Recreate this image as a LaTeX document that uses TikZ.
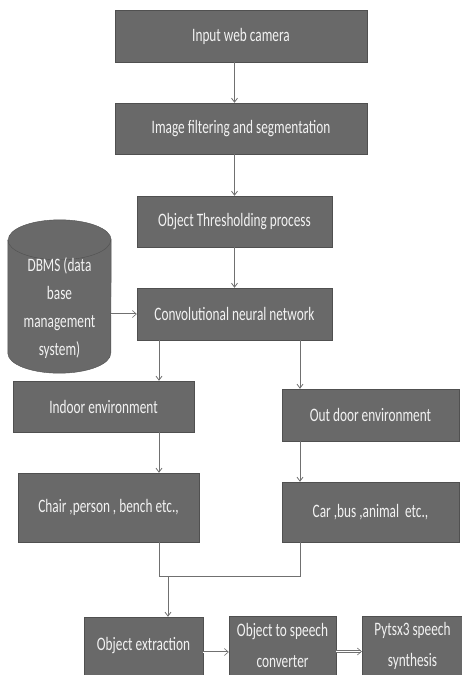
\documentclass[tikz,border=0pt]{standalone}
\usepackage{fontspec}
\setmainfont{Carlito}[FakeStretch=0.7]
\usetikzlibrary{arrows.meta}
\definecolor{gris}{HTML}{696969}
\definecolor{grisbord}{HTML}{505050}
\definecolor{grislien}{HTML}{707070}
\definecolor{blanccasse}{HTML}{F2F2F2}
\begin{document}
\begin{tikzpicture}[x=1pt,y=-1pt]
	% Styles
	\tikzstyle{boite}=[draw=grisbord,fill=gris,text=blanccasse,align=center,font=\fontsize{19}{22}\selectfont,inner sep=0pt]
	\tikzstyle{cylindre}=[text=blanccasse,align=center,font=\fontsize{19}{22}\selectfont,inner sep=0pt,minimum width=103,text height=13pt,text depth=4pt]
	\tikzstyle{fleche}=[-{Straight Barb[length=4pt,width=6pt]},draw=grislien,thick]
	\tikzstyle{trait}=[-,draw=grislien,thick]
	\tikzstyle{doublefleche}=[-{Straight Barb[length=4pt,width=7pt]},draw=grislien,double=white,double distance=1pt,semithick]
	% Cadre
	\useasboundingbox (0,0) rectangle (462,675);
	% Axes des liaisons
	\coordinate (axeC) at (234.5,0);
	\coordinate (axeG) at (159,0);
	\coordinate (axeD) at (300,0);
	\coordinate (jonction) at (168,576);
	% Base de donnees (cylindre)
	\node[minimum width=103,minimum height=153,inner sep=0pt] (dbms) at (59.5,296.5) {};
	\filldraw[fill=gris,draw=grisbord] ([yshift=-20pt]dbms.north west) -- ([yshift=20pt]dbms.south west)
		arc[start angle=180,end angle=0,x radius=51.5,y radius=20] -- ([yshift=-20pt]dbms.north east)
		arc[start angle=0,end angle=-180,x radius=51.5,y radius=20] -- cycle;
	\draw[grisbord] ([yshift=-20pt]dbms.north west) arc[start angle=180,end angle=0,x radius=51.5,y radius=20];
	\node[cylindre] (dbmsA) at (59.5,267) {DBMS (data};
	\node[cylindre] (dbmsB) at (59.5,295) {base};
	\node[cylindre] (dbmsC) at (59.5,323) {management};
	\node[cylindre] (dbmsD) at (59.5,351) {system)};
	% Noeuds
	\node[boite,minimum width=252,minimum height=52] (camera) at (241,36) {Input web camera};
	\node[boite,minimum width=252,minimum height=51] (filtrage) at (241,128.5) {Image filtering and segmentation};
	\node[boite,minimum width=195,minimum height=51] (seuil) at (234.5,221.5) {Object Thresholding process};
	\node[boite,minimum width=195,minimum height=52] (cnn) at (234.5,314) {Convolutional neural network};
	\node[boite,minimum width=181,minimum height=51] (interieur) at (103.5,406.5) {Indoor environment};
	\node[boite,minimum width=177,minimum height=52] (exterieur) at (370.5,415) {Out door environment};
	\node[boite,minimum width=181,minimum height=69] (objint) at (108.5,507.5) {Chair ,person , bench etc.,};
	\node[boite,minimum width=177,minimum height=60] (objext) at (370.5,512) {Car ,bus ,animal\ \ etc.,};
	\node[boite,minimum width=119,minimum height=58] (extraction) at (143.5,646) {Object extraction};
	\node[boite,minimum width=107,minimum height=59,font=\fontsize{19}{31}\selectfont] (conversion) at (282.5,645.5) {Object to speech\\converter};
	\node[boite,minimum width=101,minimum height=59,font=\fontsize{19}{31}\selectfont] (synthese) at (412.5,645.5) {Pytsx3 speech\\synthesis};
	% Arcs
	\draw[fleche] (camera.south -| axeC) -- (filtrage.north -| axeC);
	\draw[fleche] (filtrage.south -| axeC) -- (seuil.north -| axeC);
	\draw[fleche] (seuil.south -| axeC) -- (cnn.north -| axeC);
	\draw[doublefleche] (dbms.east |- cnn.west) -- (cnn.west);
	\draw[fleche] (cnn.south -| axeG) -- (interieur.north -| axeG);
	\draw[fleche] (cnn.south -| axeD) -- (exterieur.north -| axeD);
	\draw[fleche] (interieur.south -| axeG) -- (objint.north -| axeG);
	\draw[fleche] (exterieur.south -| axeD) -- (objext.north -| axeD);
	\draw[trait] (objint.south -| axeG) -- (axeG |- jonction) -- (axeD |- jonction) -- (objext.south -| axeD);
	\draw[fleche] (jonction) -- (extraction.north -| jonction);
	\draw[doublefleche] ([yshift=-6pt]extraction.east) -- ([yshift=-6pt]extraction.east -| conversion.west);
	\draw[doublefleche] ([yshift=-6pt]conversion.east) -- ([yshift=-6pt]conversion.east -| synthese.west);
\end{tikzpicture}
\end{document}
